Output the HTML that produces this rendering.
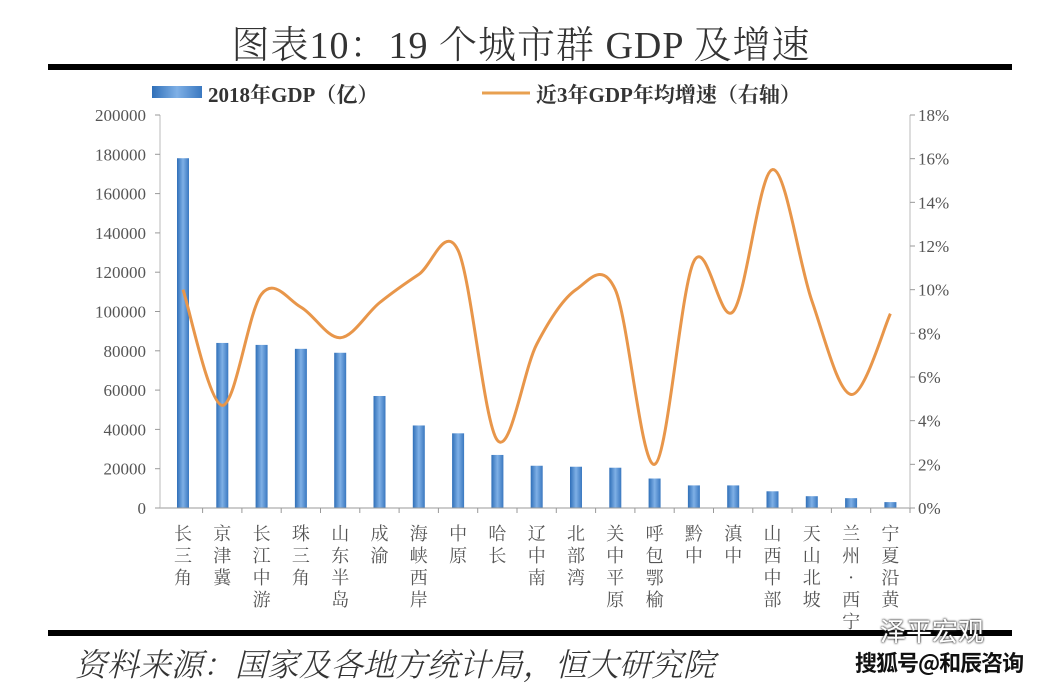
<!DOCTYPE html>
<html><head><meta charset="utf-8"><style>
body{margin:0;background:#fff;width:1042px;height:696px;overflow:hidden;position:relative;font-family:"Liberation Serif","Noto Serif CJK SC",serif}
.t{position:absolute;left:0;width:1042px;top:14px;text-align:center;font-size:38px;color:#333;font-family:"Liberation Serif","Noto Serif CJK SC",serif;font-weight:300;letter-spacing:1px}
.rule{position:absolute;left:48px;width:964px;height:6px;background:#000}
.cat{position:absolute;top:522px;width:24px;font-size:18px;line-height:22px;color:#555;text-align:center;font-family:"Noto Serif CJK SC",serif}
.src{position:absolute;left:78px;top:640px;font-size:32px;color:#333;font-family:"Noto Serif CJK SC",serif;font-weight:300;transform:skewX(-14deg)}
.wm1{position:absolute;left:880px;top:612px;font-size:26px;color:#fff;font-family:"Noto Sans CJK SC",sans-serif;text-shadow:0 0 2px #333,0 0 2px #333}
.wm2{position:absolute;left:855px;top:646px;font-size:22px;color:#111;font-weight:bold;font-family:"Noto Sans CJK SC",sans-serif;background:rgba(255,255,255,.8);letter-spacing:-1px}
</style></head><body>
<div class="t">图表10：19 个城市群 GDP 及增速</div>
<div class="rule" style="top:64px"></div>
<div class="rule" style="top:630px"></div>
<svg width="1042" height="696" style="position:absolute;left:0;top:0" id="s">
<defs><linearGradient id="g" x1="0" x2="1"><stop offset="0" stop-color="#2f6fb8"/><stop offset="0.5" stop-color="#7fb0e6"/><stop offset="1" stop-color="#3a78c0"/></linearGradient></defs>
<rect x="152" y="86" width="50" height="12" fill="url(#g)"/>
<text x="208" y="102" font-size="21" font-weight="bold" fill="#333" font-family="Liberation Serif,Noto Serif CJK SC,serif">2018年GDP（亿）</text>
<line x1="482" y1="93" x2="530" y2="93" stroke="#e8a050" stroke-width="3"/>
<text x="536" y="102" font-size="21" font-weight="bold" fill="#333" font-family="Liberation Serif,Noto Serif CJK SC,serif">近3年GDP年均增速（右轴）</text>
<g id="ax" font-size="17" fill="#555" font-family="Liberation Serif,serif"></g>
<g id="bars"></g>
<path id="ln" fill="none" stroke="#e8964a" stroke-width="3"/>
</svg>
<div id="cats"></div>
<div class="src">资料来源：国家及各地方统计局，恒大研究院</div>
<div class="wm1">泽平宏观</div>
<div class="wm2">搜狐号@和辰咨询</div>
<script>
var NS="http://www.w3.org/2000/svg",s=document.getElementById('s');
function el(t,a,p){var e=document.createElementNS(NS,t);for(var k in a)e.setAttribute(k,a[k]);(p||s).appendChild(e);return e}
var ax=document.getElementById('ax'),y0=508,H=393;
el('line',{x1:160,y1:y0,x2:912,y2:y0,stroke:'#999'});
el('line',{x1:160,y1:115,x2:160,y2:y0,stroke:'#bbb'});
el('line',{x1:910,y1:115,x2:910,y2:y0,stroke:'#bbb'});
for(var i=0;i<=10;i++){var y=y0-i*H/10;var t=el('text',{x:146,y:y+6,'text-anchor':'end'},ax);t.textContent=i*20000;
el('line',{x1:155,y1:y,x2:160,y2:y,stroke:'#999'});}
for(var i=0;i<=9;i++){var y=y0-i*H/9;var t=el('text',{x:918,y:y+6},ax);t.textContent=(i*2)+'%';el('line',{x1:910,y1:y,x2:915,y2:y,stroke:'#999'});}
var g=[178000,84000,83000,81000,79000,57000,42000,38000,27000,21500,21000,20500,15000,11500,11500,8500,6000,5000,3000];
var p=[10,4.7,9.8,9.2,7.8,9.4,10.7,11.8,3.1,7.5,10,10,2,11.3,9,15.5,9.5,5.2,8.9];
var names=["长三角","京津冀","长江中游","珠三角","山东半岛","成渝","海峡西岸","中原","哈长","辽中南","北部湾","关中平原","呼包鄂榆","黔中","滇中","山西中部","天山北坡","兰州·西宁","宁夏沿黄"];
var bg=document.getElementById('bars'),cats=document.getElementById('cats'),pts=[];
for(var i=0;i<19;i++){var x=183+i*39.3,h=g[i]/200000*H;
el('rect',{x:x-6,y:y0-h,width:12,height:h,fill:'url(#g)'},bg);
el('line',{x1:x+19.6,y1:y0,x2:x+19.6,y2:y0+5,stroke:'#999'});
pts.push([x,y0-p[i]/18*H]);
var d=document.createElement('div');d.className='cat';d.style.left=(x-12)+'px';d.innerHTML=names[i].split('').join('<br>');cats.appendChild(d);}
var dd='M'+pts[0][0]+','+pts[0][1];
for(var i=0;i<pts.length-1;i++){var a=pts[i-1]||pts[i],b=pts[i],c=pts[i+1],e=pts[i+2]||c;
dd+=' C'+(b[0]+(c[0]-a[0])/6)+','+(b[1]+(c[1]-a[1])/6)+' '+(c[0]-(e[0]-b[0])/6)+','+(c[1]-(e[1]-b[1])/6)+' '+c[0]+','+c[1];}
document.getElementById('ln').setAttribute('d',dd);
</script>
</body></html>
